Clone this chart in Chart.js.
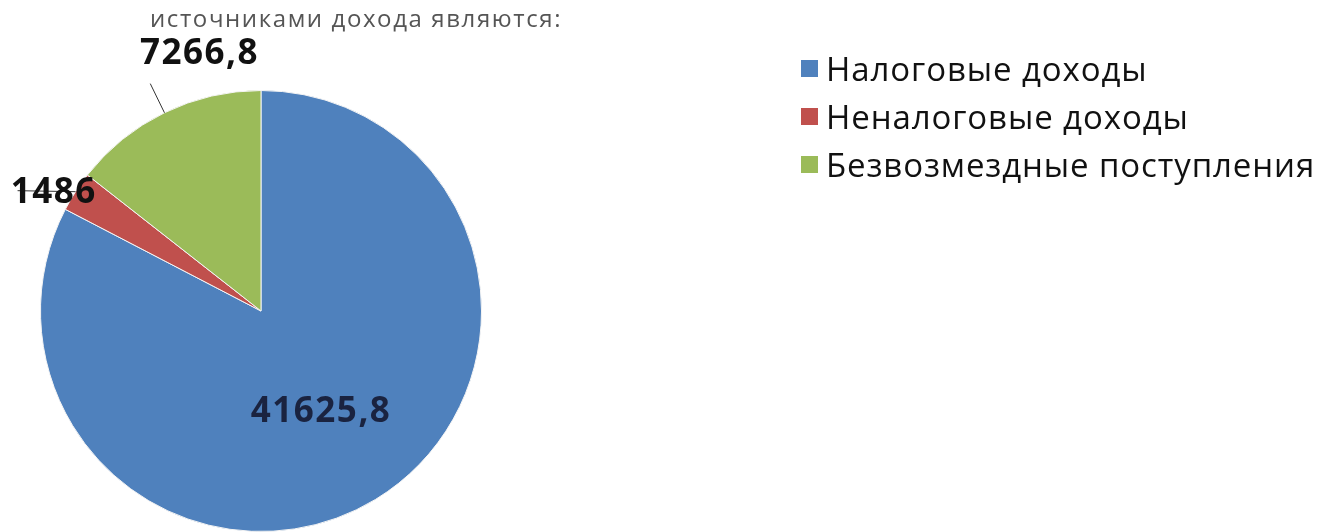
<!DOCTYPE html>
<html>

<head>
  <title>Источники дохода</title>
  <meta charset="UTF-8">
  <script src="https://cdn.jsdelivr.net/npm/chart.js"></script>
  <style type="text/css">
    body {
      margin: 0;
      background: #ffffff;
      font-family: "Open Sans", sans-serif;
    }

    #wrap {
      position: relative;
      width: 1321px;
      height: 532px;
      overflow: hidden;
    }

    #pieCanvas {
      position: absolute;
      left: 0;
      top: 0;
    }

    #title {
      position: absolute;
      left: 150px;
      top: 3px;
      font-size: 24px;
      line-height: 30px;
      letter-spacing: 1.6px;
      color: #555555;
      white-space: nowrap;
    }

    #legend {
      position: absolute;
      left: 801px;
      top: 45px;
    }

    .item {
      height: 48px;
      line-height: 48px;
      font-size: 33px;
      letter-spacing: 0.9px;
      color: #111111;
      white-space: nowrap;
    }

    .box {
      display: inline-block;
      width: 17px;
      height: 17px;
      margin-right: 8px;
      vertical-align: 4px;
    }
  </style>
</head>

<body>
  <div id="wrap">
    <canvas id="pieCanvas" width="1321" height="532"></canvas>
    <div id="title">источниками дохода являются:</div>
    <div id="legend"></div>
  </div>

  <script>
    // данные
    const categories = ['Налоговые доходы', 'Неналоговые доходы', 'Безвозмездные поступления'];
    const values = [41625.8, 1486, 7266.8];
    const valueLabels = ['41625,8', '1486', '7266,8'];
    const colors = ['#4f81bd', '#c0504d', '#9bbb59'];

    // где рисовать подписи: доля радиуса, сдвиг угла (град.), сдвиг по y
    const labelPlace = [
      { r: 0.525, da: 0, dy: 2, color: '#1a2340' },
      { r: 1.08, da: -3.2, dy: 0, color: '#111111' },
      { r: 1.205, da: 12.6, dy: 2, color: '#111111' }
    ];

    // легенда
    let legendHtml = '';
    for (var i in categories) {
      legendHtml += '<div class="item"><span class="box" style="background:' + colors[i] + '"></span>' + categories[i] + '</div>';
    }
    document.getElementById('legend').innerHTML = legendHtml;

    const valueLabelsPlugin = {
      id: 'valueLabels',
      afterDatasetsDraw(chart) {
        const ctx = chart.ctx;
        const arcs = chart.getDatasetMeta(0).data;
        ctx.save();

        // выноски
        ctx.strokeStyle = '#333333';
        ctx.lineWidth = 1;
        let g = arcs[2];
        let gm = (g.startAngle + g.endAngle) / 2;
        ctx.beginPath();
        ctx.moveTo(g.x + Math.cos(gm) * g.outerRadius, g.y + Math.sin(gm) * g.outerRadius);
        ctx.lineTo(g.x + Math.cos(gm) * g.outerRadius * 1.147, g.y + Math.sin(gm) * g.outerRadius * 1.147);
        ctx.stroke();

        let r = arcs[1];
        let rm = (r.startAngle + r.endAngle) / 2;
        let ex = r.x + Math.cos(rm) * r.outerRadius;
        let ey = r.y + Math.sin(rm) * r.outerRadius;
        ctx.beginPath();
        ctx.moveTo(ex, ey);
        ctx.lineTo(ex - 58, ey - 1);
        ctx.stroke();

        ctx.font = 'bold 35px "Open Sans"';
        ctx.letterSpacing = '1.5px';
        ctx.textAlign = 'center';
        ctx.textBaseline = 'middle';
        arcs.forEach(function(arc, i) {
          let p = labelPlace[i];
          let a = (arc.startAngle + arc.endAngle) / 2 + p.da * Math.PI / 180;
          ctx.fillStyle = p.color;
          ctx.fillText(valueLabels[i], arc.x + Math.cos(a) * arc.outerRadius * p.r, arc.y + Math.sin(a) * arc.outerRadius * p.r + p.dy);
        });
        ctx.restore();
      }
    };

    new Chart(document.getElementById('pieCanvas'), {
      type: 'pie',
      data: {
        labels: categories,
        datasets: [{
          data: values,
          backgroundColor: colors,
          borderColor: '#f4f4f4',
          borderWidth: 1
        }]
      },
      options: {
        responsive: false,
        animation: false,
        layout: {
          padding: { left: 40, right: 839, top: 90, bottom: 0 }
        },
        plugins: {
          legend: { display: false },
          tooltip: { enabled: false }
        }
      },
      plugins: [valueLabelsPlugin]
    });
  </script>

</body>

</html>
